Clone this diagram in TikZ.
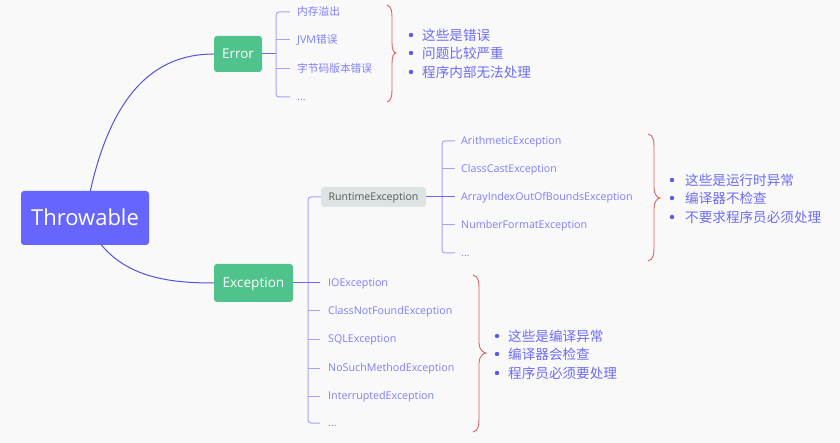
\documentclass[tikz,border=0pt]{standalone}
\usepackage{fontspec}
\setmainfont{Open Sans}
\newfontfamily\cjkfnt{Noto Sans CJK SC}
\newcommand\zhs[1]{{\cjkfnt #1}}
\usetikzlibrary{backgrounds}
\definecolor{bgc}{HTML}{F9F9F9}
\definecolor{throwc}{HTML}{6666FF}
\definecolor{greenc}{HTML}{4FC38B}
\definecolor{mainline}{HTML}{5252DD}
\definecolor{connc}{HTML}{6A6AF5}
\definecolor{brc}{HTML}{A3A3FF}
\definecolor{leafc}{HTML}{7F7FFF}
\definecolor{notec}{HTML}{6C6CF5}
\definecolor{bulc}{HTML}{5A5AEE}
\definecolor{redc}{HTML}{D86464}
\definecolor{rtfill}{HTML}{DEE3E3}
\definecolor{rttext}{HTML}{555C5C}
\newcommand\mybrc[6]{%
  \draw[bracestyle] (#1,#4) .. controls (#2,#4+1) and (#2,#4+8) .. (#2,#4+16)
    -- (#2,#5-10) .. controls (#2,#5-3) and (#3-2,#5) .. (#3,#5)
    .. controls (#3-2,#5) and (#2,#5+3) .. (#2,#5+10)
    -- (#2,#6-16) .. controls (#2,#6-8) and (#2,#6-1) .. (#1,#6);}
\begin{document}
\begin{tikzpicture}[x=1pt,y=-1pt,
  box/.style={rounded corners=3pt, text=white, inner sep=0pt, text depth=0pt},
  leaf/.style={anchor=west, inner sep=0pt, text=leafc, font=\fontsize{10.7}{12}\selectfont, text height=7.7pt, text depth=0pt},
  note/.style={anchor=west, inner sep=0pt, text=notec, font=\fontsize{13.6}{15}\selectfont\cjkfnt, text height=10.1pt, text depth=0pt},
  brline/.style={draw=brc, line width=1pt},
  connline/.style={draw=connc, line width=1pt},
  curveline/.style={draw=mainline, line width=1pt},
  bracestyle/.style={draw=redc, line width=0.9pt},
  bul/.style={fill=bulc}]
\useasboundingbox (0,0) rectangle (840,443);

% main nodes
\node[box, fill=throwc, minimum width=128pt, minimum height=54pt, font=\fontsize{22}{25}\selectfont, text height=15.8pt] (thr) at (85,218) {Throwable};
\node[box, fill=greenc, minimum width=48pt, minimum height=36pt, font=\fontsize{13.4}{15}\selectfont, text height=9.6pt] (err) at (238,54) {Error};
\node[box, fill=greenc, minimum width=79pt, minimum height=38pt, font=\fontsize{13.6}{15}\selectfont, text height=9.8pt] (exc) at (253.5,283) {Exception};
\node[box, fill=rtfill, text=rttext, minimum width=105pt, minimum height=20pt, font=\fontsize{10.6}{12}\selectfont, text height=7.6pt] (rt) at (373.5,197) {RuntimeException};

% Error leaves
\node[leaf] (e1) at (297,12) {\zhs{内存溢出}};
\node[leaf] (e2) at (297,40) {JVM\zhs{错误}};
\node[leaf] (e3) at (297,69) {\zhs{字节码版本错误}};
\node[leaf] (e4) at (297,97) {...};
\coordinate (ebar) at (276,54);
\draw[connline] (err.east) -- (ebar);
\draw[brline, rounded corners=3pt] ([xshift=-7pt]e1.west) -- ([xshift=-21pt]e1.west) |- ([xshift=-7pt]e4.west);
\foreach \n in {e2,e3} \draw[brline] ([xshift=-21pt]\n.west) -- ([xshift=-7pt]\n.west);

% Runtime leaves
\node[leaf] (r1) at (461,141) {ArithmeticException};
\node[leaf] (r2) at (461,169) {ClassCastException};
\node[leaf] (r3) at (461,197) {ArrayIndexOutOfBoundsException};
\node[leaf] (r4) at (461,225) {NumberFormatException};
\node[leaf] (r5) at (461,253) {...};
\draw[brline, rounded corners=3pt] ([xshift=-6pt]r1.west) -- ([xshift=-19pt]r1.west) |- ([xshift=-6pt]r5.west);
\foreach \n in {r2,r4} \draw[brline] ([xshift=-19pt]\n.west) -- ([xshift=-6pt]\n.west);
\draw[connline] (rt.east) -- ([xshift=-6pt]r3.west);

% Exception leaves
\node[leaf] (x1) at (328,283) {IOException};
\node[leaf] (x2) at (328,311) {ClassNotFoundException};
\node[leaf] (x3) at (328,339) {SQLException};
\node[leaf] (x4) at (328,368) {NoSuchMethodException};
\node[leaf] (x5) at (328,396) {InterruptedException};
\node[leaf] (x6) at (328,423) {...};
\draw[brline, rounded corners=3pt] (rt.west) -| ([xshift=-20pt]x6.west) -- ([xshift=-8pt]x6.west);
\foreach \n in {x2,x3,x4,x5} \draw[brline] ([xshift=-20pt]\n.west) -- ([xshift=-8pt]\n.west);
\draw[connline] (exc.east) -- ([xshift=-8pt]x1.west);

% braces
\mybrc{387}{392}{396}{5}{53}{102}
\mybrc{648}{654}{660}{134}{198}{261}
\mybrc{473}{479}{486}{275}{353}{432}

% notes
\node[note] (n1) at (422,35) {这些是错误};
\node[note] (n2) at (422,53) {问题比较严重};
\node[note] (n3) at (422,72) {程序内部无法处理};
\node[note] (m1) at (685,180) {这些是运行时异常};
\node[note] (m2) at (685,198) {编译器不检查};
\node[note] (m3) at (685,217) {不要求程序员必须处理};
\node[note] (k1) at (508,336) {这些是编译异常};
\node[note] (k2) at (508,354) {编译器会检查};
\node[note] (k3) at (508,373) {程序员必须要处理};
\foreach \n in {n1,n2,n3,k1,k2,k3} \fill[bul] ([xshift=-11pt]\n.west) circle (2.2);
\foreach \n in {m1,m2,m3} \fill[bul] ([xshift=-13pt]\n.west) circle (2.2);

\begin{pgfonlayer}{background}
\fill[bgc] (0,0) rectangle (840,443);
\draw[curveline] (thr.center) .. controls (105,100) and (150,54) .. (err.west);
\draw[curveline] (thr.center) .. controls (110,275) and (160,283) .. (exc.west);
\end{pgfonlayer}
\end{tikzpicture}
\end{document}
